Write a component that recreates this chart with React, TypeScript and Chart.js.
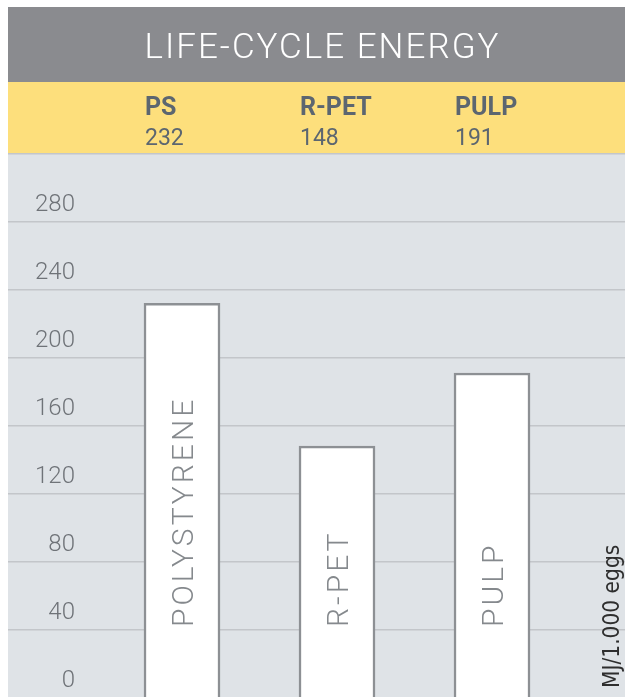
import React, { useEffect, useRef } from "react";
import { Chart, registerables } from "chart.js";

Chart.register(...registerables);

const TITLE = "LIFE-CYCLE ENERGY";
const categories = ["PS", "R-PET", "PULP"];
const barLabels = ["POLYSTYRENE", "R-PET", "PULP"];
const values = [232, 148, 191];
const valueLabels = ["232", "148", "191"];
const yTickLabels = [0, 40, 80, 120, 160, 200, 240, 280];
const unitLabel = "MJ/1.000 eggs";

const decorPlugin = {
  id: "decor",
  beforeDraw(chart: any) {
    const { ctx, width, height, chartArea } = chart;
    ctx.save();
    ctx.fillStyle = "#8a8b8f";
    ctx.fillRect(0, 0, width, 75);
    ctx.fillStyle = "#fddf7c";
    ctx.fillRect(0, 75, width, chartArea.top - 75);
    ctx.fillStyle = "#dfe3e7";
    ctx.fillRect(0, chartArea.top, width, height - chartArea.top);

    ctx.fillStyle = "#ffffff";
    ctx.font = "300 35px Roboto";
    ctx.letterSpacing = "2px";
    ctx.textAlign = "center";
    ctx.textBaseline = "alphabetic";
    ctx.fillText(TITLE, width / 2 + 6, 51);

    const meta = chart.getDatasetMeta(0);
    ctx.textAlign = "left";
    ctx.letterSpacing = "0px";
    ctx.fillStyle = "#5c6670";
    meta.data.forEach((bar: any, i: number) => {
      const left = bar.x - bar.width / 2;
      ctx.font = "bold 25px Roboto";
      ctx.fillText(categories[i], left + 1, 108);
      ctx.font = "400 23px Roboto";
      ctx.fillText(valueLabels[i], left + 1, 138);
    });
    ctx.restore();
  },
  afterDatasetsDraw(chart: any) {
    const { ctx, chartArea } = chart;
    const yScale = chart.scales.y;
    const zero = yScale.getPixelForValue(0);
    const meta = chart.getDatasetMeta(0);
    ctx.save();
    ctx.fillStyle = "#85898d";
    ctx.font = "300 30px Roboto";
    ctx.letterSpacing = "3px";
    ctx.textAlign = "left";
    ctx.textBaseline = "alphabetic";
    meta.data.forEach((bar: any, i: number) => {
      ctx.save();
      ctx.translate(bar.x, zero - 71);
      ctx.rotate(-Math.PI / 2);
      ctx.fillText(barLabels[i], 0, 10.7);
      ctx.restore();
    });
    ctx.fillStyle = "#2e2e2e";
    ctx.font = '22.5px "Liberation Sans Narrow", "DejaVu Sans Condensed", sans-serif';
    ctx.letterSpacing = "0px";
    ctx.translate(chartArea.right - 6.5, zero - 10);
    ctx.rotate(-Math.PI / 2);
    ctx.fillText(unitLabel, 0, 0);
    ctx.restore();
  },
};

export default function App() {
  const ref = useRef<HTMLCanvasElement | null>(null);
  useEffect(() => {
    if (!ref.current) return;
    const chart = new Chart(ref.current, {
      type: "bar",
      data: {
        datasets: [
          {
            data: categories.map((c, i) => ({ x: i, y: values[i] })),
            backgroundColor: "#ffffff",
            borderColor: "#8d9094",
            borderWidth: 2.5,
            borderSkipped: "bottom",
            barThickness: 76,
          },
        ],
      },
      options: {
        animation: false,
        responsive: true,
        maintainAspectRatio: false,
        layout: { padding: { top: 146.5, left: 0, right: 0, bottom: 0 } },
        plugins: {
          legend: { display: false },
          tooltip: { enabled: false },
          title: { display: false },
        },
        scales: {
          x: {
            type: "linear",
            display: false,
            offset: false,
            min: -1.1226,
            max: 2.858,
          },
          y: {
            min: 0,
            max: 320,
            position: "left",
            border: { display: false },
            grid: { color: "#c3c6ca", lineWidth: 1.5, drawTicks: false },
            ticks: {
              stepSize: 40,
              mirror: true,
              crossAlign: "far",
              padding: 27,
              labelOffset: -17,
              color: "#6f7378",
              font: { family: "Roboto", size: 24, weight: "300" },
              callback: (v: any) => (yTickLabels.includes(Number(v)) ? String(v) : ""),
            },
            afterFit: (s: any) => {
              s.paddingTop = 0;
              s.paddingBottom = 0;
              s.width = 0;
            },
          },
        },
      },
      plugins: [decorPlugin],
    } as any);
    return () => chart.destroy();
  }, []);
  return (
    <div style={{ position: "fixed", left: 8, top: 7, width: 617, height: 691 }}>
      <canvas ref={ref} style={{ display: "block" }} />
    </div>
  );
}
